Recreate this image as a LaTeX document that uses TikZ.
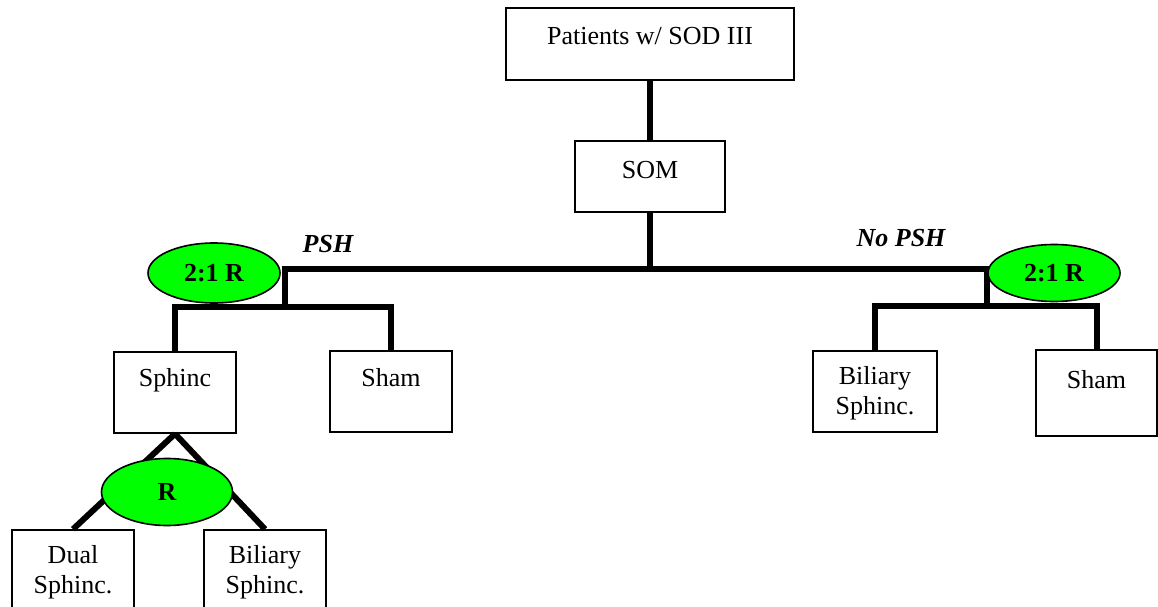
\documentclass[tikz,border=0pt]{standalone}
\usepackage{fontspec}
\setmainfont{Liberation Serif}
\usetikzlibrary{shapes.geometric}
\definecolor{rgreen}{RGB}{0,255,0}

\begin{document}
\begin{tikzpicture}[x=1pt, y=-1pt,
    box/.style={draw, line width=1.6pt, inner sep=0pt},
    txt/.style={align=center, inner sep=0pt, font=\fontsize{26}{30}\selectfont},
    rnd/.style={ellipse, draw, line width=1.6pt, fill=rgreen, inner sep=0pt,
        font=\fontsize{26}{30}\selectfont\bfseries},
    arm/.style={inner sep=0pt, font=\fontsize{26}{30}\selectfont\bfseries\itshape},
    conn/.style={line width=6pt}]
    \clip (0,0) rectangle (1158,607);

    % Boxes
    \node[box, minimum width=288, minimum height=72] (pat) at (650,44) {};
    \node[txt] (patT) at (650,36) {Patients w/ SOD III};
    \node[box, minimum width=150, minimum height=71] (som) at (650,176.5) {};
    \node[txt] (somT) at (650,170) {SOM};

    \node[box, minimum width=122, minimum height=81] (sphinc) at (175,392.5) {};
    \node[txt] (sphincT) at (175,380) {Sphinc};
    \node[box, minimum width=122, minimum height=81] (shamL) at (391,391.5) {};
    \node[txt] (shamLT) at (391,378) {Sham};

    \node[box, minimum width=124, minimum height=81] (bilR) at (875,391.5) {};
    \node[txt] (bilRT) at (875,393) {Biliary\\Sphinc.};
    \node[box, minimum width=121, minimum height=86] (shamR) at (1096.5,393) {};
    \node[txt] (shamRT) at (1096.5,380) {Sham};

    \node[box, minimum width=122, minimum height=100] (dual) at (73,580) {};
    \node[txt] (dualT) at (73,572) {Dual\\Sphinc.};
    \node[box, minimum width=122, minimum height=100] (bilL) at (265,580) {};
    \node[txt] (bilLT) at (265,572) {Biliary\\Sphinc.};

    % Junctions
    \coordinate (jL) at (285,269);
    \coordinate (jR) at (987,269);
    \coordinate (sL) at (285,307);
    \coordinate (sR) at (987,306);

    % Connectors
    \draw[conn] (pat.south) -- (pat.south |- som.north);
    \draw[conn] (som.south) -- (som.south |- jL);
    \draw[conn] (sL) -- (jL) -- (jR) -- (sR);
    \draw[conn] (sphinc.north) |- (sL) -| (shamL.north);
    \draw[conn] (bilR.north) |- (sR) -| (shamR.north);
    \draw[conn] (sphinc.south) -- (dual.north);
    \draw[conn] (sphinc.south) -- (bilL.north);

    % Randomisation
    \node[rnd, minimum width=132, minimum height=60] (rL) at (214,273) {2:1 R};
    \node[rnd, minimum width=132, minimum height=57] (rR) at (1054,273) {2:1 R};
    \node[rnd, minimum width=131, minimum height=67] (rS) at (167,492) {R};

    % Arm labels
    \node[arm] (psh) at (328,244) {PSH};
    \node[arm] (nopsh) at (901,238) {No PSH};
\end{tikzpicture}
\end{document}
